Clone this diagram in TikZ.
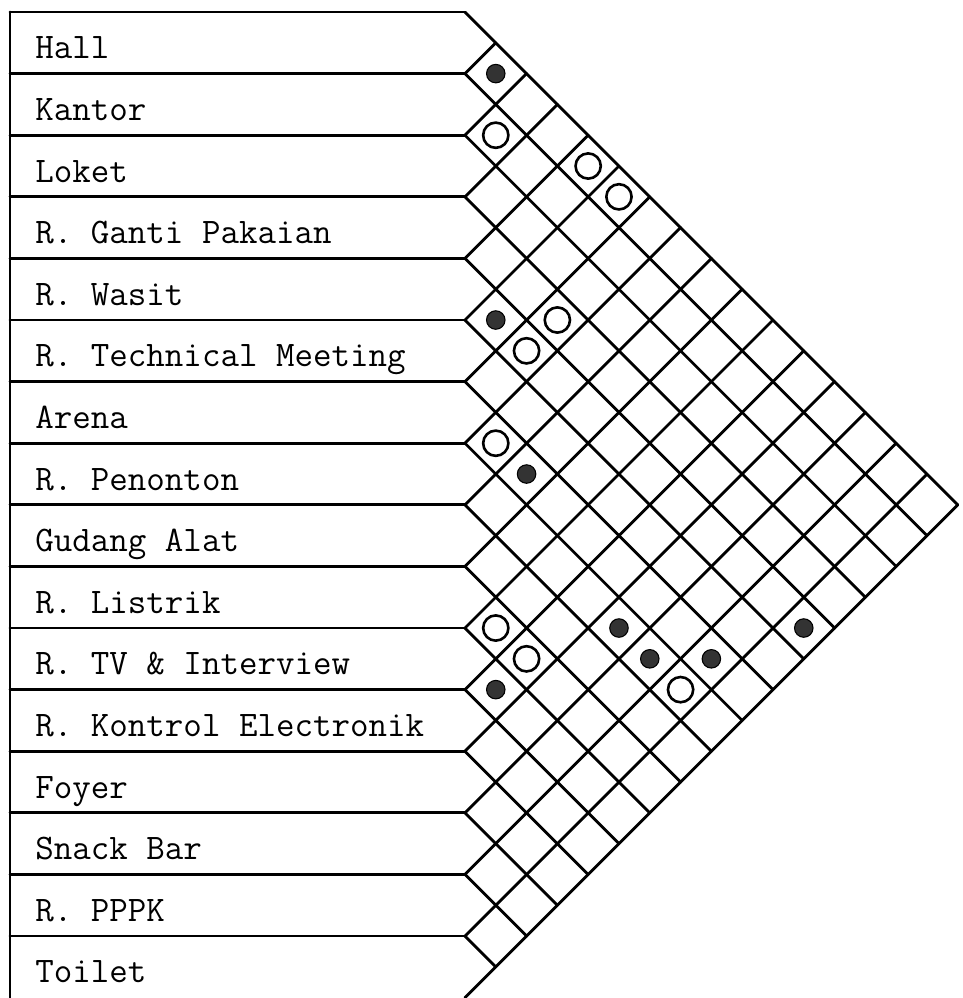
\documentclass[tikz,border=0pt]{standalone}
\usepackage{fontspec}
\usepackage{tikz}
\usetikzlibrary{calc}
\tikzset{
  gridline/.style={line width=1.3pt,black,line cap=round},
  roomlabel/.style={anchor=base west,inner sep=0pt,font=\ttfamily\fontsize{16.6}{20}\selectfont},
  strong/.style={circle,fill=black!80,draw=black,line width=.5pt,minimum size=.3cm,inner sep=0pt},
  weak/.style={circle,draw=black,line width=1.2pt,minimum size=.41cm,inner sep=0pt}
}

\begin{document}
\begin{tikzpicture}[x=1cm,y=1cm]
  \useasboundingbox (-0.162,0.195) rectangle (15.47,-16.006);
  \foreach \k in {0,...,16}{\coordinate (b\k) at (7.386,-\k);}
  \foreach \lbl [count=\k from 0] in {Hall,Kantor,Loket,R. Ganti Pakaian,R. Wasit,
      R. Technical Meeting,Arena,R. Penonton,Gudang Alat,R. Listrik,R. TV \& Interview,
      R. Kontrol Electronik,Foyer,Snack Bar,R. PPPK,Toilet}{
    \node[roomlabel] (room\k) at (0.406,-\k-0.76) {\lbl};
  }
  \draw[gridline] (0,0) -- (0,-16.006);
  \foreach \k in {0,...,15}{\draw[gridline] (0,-\k) -- (b\k);}
  \foreach \k in {0,...,15}{\draw[gridline] (b\k) -- ++({(16-\k)/2},{-(16-\k)/2});}
  \foreach \k in {1,...,16}{\draw[gridline] (b\k) -- ++({\k/2},{\k/2});}
  \foreach \i/\j in {0/1,4/5,6/8,10/11,7/12,7/13,6/14,4/15}{
    \node[strong] (s\i-\j) at ({7.386+(\j-\i)/2},{-(\i+\j+1)/2}) {};}
  \foreach \i/\j in {1/2,0/4,0/5,3/6,4/6,6/7,9/10,9/11,7/14}{
    \node[weak] (w\i-\j) at ({7.386+(\j-\i)/2},{-(\i+\j+1)/2}) {};}
\end{tikzpicture}
\end{document}
